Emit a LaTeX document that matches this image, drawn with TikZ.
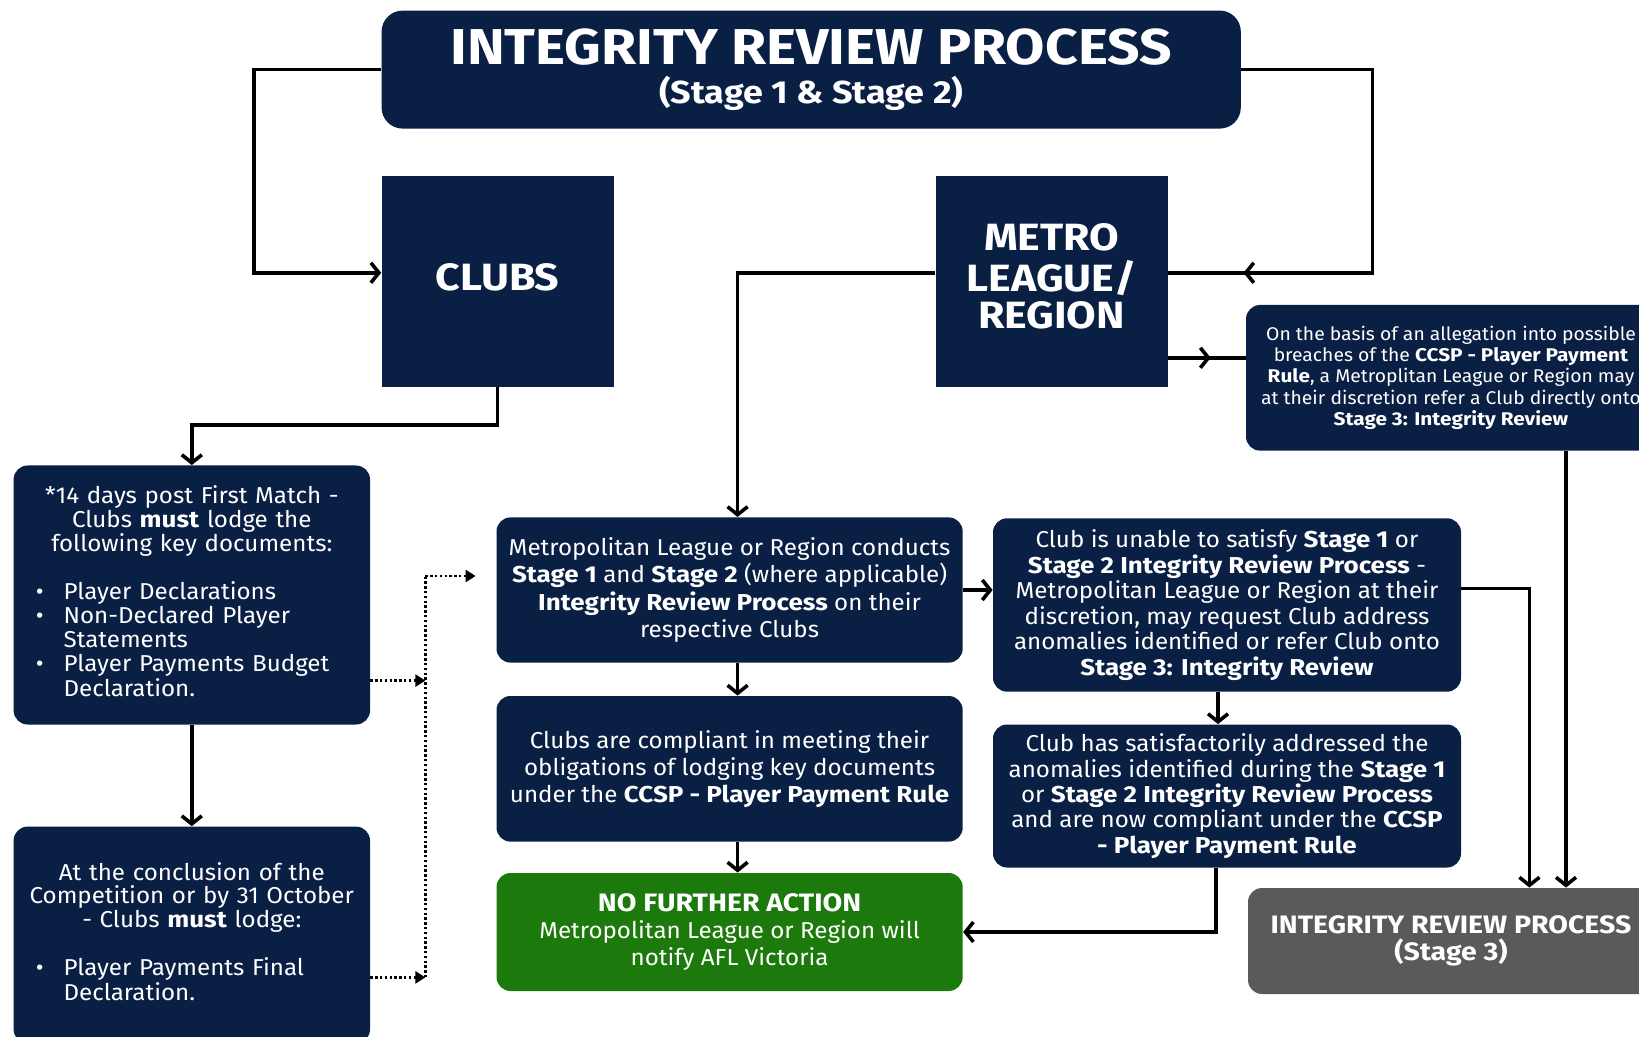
\documentclass[tikz,border=0pt]{standalone}
\usepackage{fontspec}
\setmainfont{Fira Sans}[
  UprightFeatures={FakeStretch=1.05},
  BoldFeatures={FakeStretch=1.13},
]
\usetikzlibrary{
    shapes,
    arrows.meta,
    decorations.markings,
}
\definecolor{irpnavy}{RGB}{10,31,68}
\definecolor{irpgreen}{RGB}{28,122,12}
\definecolor{irpgrey}{RGB}{90,90,90}
\newcommand{\boxround}{7pt}
\newcommand{\flowwidth}{1.8pt}
\newcommand{\textlift}{4.2pt}
\newcommand{\bodyfont}{\fontsize{11.5}{13.6}\selectfont}
\tikzstyle{flowline} = [draw=black, line width=\flowwidth]
\tikzstyle{flowarrow} = [flowline, -{Straight Barb[length=4pt,width=10pt]}]
\tikzstyle{dotline} = [draw=black, line width=1.4pt, dash pattern=on 1.2pt off 1.2pt]
\tikzstyle{dotarrow} = [dotline, -{Triangle[length=5pt,width=6pt]}]
\tikzstyle{navybox} = [
  shape=rectangle,
  rounded corners=\boxround,
  fill=irpnavy,
  text=white,
  align=center,
  inner sep=0pt,
  font=\bodyfont,
]
\tikzstyle{squarebox} = [
  navybox,
  sharp corners,
  minimum width=116pt,
  minimum height=105.6pt,
  font=\fontsize{19}{16.8}\selectfont\bfseries,
]
\tikzset{midarrow/.style={
  postaction={decorate},
  decoration={markings, mark=at position #1 with {\arrow{Straight Barb[length=4pt,width=10pt]}}},
}}

\begin{document}
\begin{tikzpicture}[x=1pt, y=-1pt]
    \useasboundingbox (0,0) rectangle (819.5,518.5);
    % top row
    \node[navybox, rounded corners=10.5pt, minimum width=429.6pt, minimum height=59pt] (title) at (405.6,34.8)
      {{\fontsize{25.2}{25.2}\selectfont\bfseries INTEGRITY REVIEW PROCESS}\\[4pt]
       {\fontsize{15.9}{17}\selectfont\bfseries (Stage 1 \& Stage 2)}};
    \node[squarebox] (clubs) at (248.8,140.6) {\raisebox{\textlift}{CLUBS}};
    \node[squarebox] (metro) at (525.8,140.6)
      {\raisebox{\textlift}{\begin{tabular}{@{}c@{}}METRO\\LEAGUE/\\REGION\end{tabular}}};
    \node[navybox, minimum width=205pt, minimum height=72.8pt, font=\fontsize{9.2}{10.6}\selectfont] (alleg) at (725.5,188.9)
      {On the basis of an allegation into possible\\
       breaches of the \textbf{CCSP - Player Payment}\\
       \textbf{Rule}, a Metroplitan League or Region may\\
       at their discretion refer a Club directly onto\\
       \textbf{Stage 3: Integrity Review}};
    % left column
    \node[navybox, minimum width=178.2pt, minimum height=129.5pt, text width=164pt, align=left,
          font=\fontsize{11.5}{11.8}\selectfont] (left1) at (95.9,297.5)
      {{\centering *14 days post First Match -\\ Clubs \textbf{must} lodge the\\ following key documents:\par}
       \vspace{11.8pt}
       \hspace*{4pt}\begin{tabular}{@{}l@{\hspace{10pt}}l@{}}
         \textbullet & Player Declarations\\
         \textbullet & Non-Declared Player\\
                     & Statements\\
         \textbullet & Player Payments Budget\\
                     & Declaration.
       \end{tabular}};
    \node[navybox, minimum width=178.2pt, minimum height=108.4pt, text width=164pt, align=left,
          font=\fontsize{11.5}{11.8}\selectfont] (left2) at (95.9,467.5)
      {{\centering At the conclusion of the\\ Competition or by 31 October\\ - Clubs \textbf{must} lodge:\par}
       \vspace{11.8pt}
       \hspace*{4pt}\begin{tabular}{@{}l@{\hspace{10pt}}l@{}}
         \textbullet & Player Payments Final\\
                     & Declaration.
       \end{tabular}};
    % centre column
    \node[navybox, minimum width=233.1pt, minimum height=72.6pt] (cen1) at (364.8,295)
      {Metropolitan League or Region conducts\\
       \textbf{Stage 1} and \textbf{Stage 2} (where applicable)\\
       \textbf{Integrity Review Process} on their\\
       respective Clubs};
    \node[navybox, minimum width=233.1pt, minimum height=72.8pt] (cen2) at (364.8,384.4)
      {Clubs are compliant in meeting their\\
       obligations of lodging key documents\\
       under the \textbf{CCSP - Player Payment Rule}};
    \node[navybox, fill=irpgreen, minimum width=233.1pt, minimum height=59pt] (green) at (364.8,466)
      {{\fontsize{12.6}{13.6}\selectfont\bfseries NO FURTHER ACTION}\\
       Metropolitan League or Region will\\
       notify AFL Victoria};
    % right column
    \node[navybox, minimum width=234pt, minimum height=86.7pt, font=\fontsize{11.5}{12.75}\selectfont] (right1) at (613.5,302.5)
      {Club is unable to satisfy \textbf{Stage 1} or\\
       \textbf{Stage 2 Integrity Review Process} -\\
       Metropolitan League or Region at their\\
       discretion, may request Club address\\
       anomalies identified or refer Club onto\\
       \textbf{Stage 3: Integrity Review}};
    \node[navybox, minimum width=234pt, minimum height=71.5pt, font=\fontsize{11.5}{12.7}\selectfont] (right2) at (613.5,398)
      {Club has satisfactorily addressed the\\
       anomalies identified during the \textbf{Stage 1}\\
       or \textbf{Stage 2 Integrity Review Process}\\
       and are now compliant under the \textbf{CCSP}\\
       \textbf{- Player Payment Rule}};
    \node[navybox, fill=irpgrey, minimum width=203pt, minimum height=53pt,
          font=\fontsize{12.6}{13.6}\selectfont\bfseries] (grey) at (725.5,470.5)
      {INTEGRITY REVIEW PROCESS\\(Stage 3)};

    % connectors
    \coordinate (lcorner) at (127,34.8);
    \coordinate (rcorner) at (686.3,34.8);
    \coordinate (allegin) at ([yshift=10pt]alleg.west);
    \coordinate (dottop) at (212.7,288);
    \coordinate (dotA) at (212.7,340.3);
    \coordinate (dotB) at (212.7,488.7);
    \coordinate (dotin) at (237.8,288);
    \coordinate (rjoin) at (764.7,294.3);
    \coordinate (allegout) at ([xshift=57.5pt]alleg.south);

    \draw[flowarrow] (title.west) -- (lcorner) |- ([yshift=\textlift]clubs.west);
    \draw[flowline, midarrow=0.86] (title.east) -- (rcorner) |- ([yshift=\textlift]metro.east);
    \draw[flowline, midarrow=0.55] (allegin -| metro.east) -- (allegin);
    \draw[flowarrow] ([yshift=\textlift]metro.west) -| ([xshift=4pt]cen1.north);
    \draw[flowarrow] (clubs.south) -- ++(0,18.8) -| (left1.north);
    \draw[flowarrow] (left1.south) -- (left2.north);
    \draw[dotline] (dotB) -- (dottop);
    \draw[dotarrow] (dottop) -- (dotin);
    \draw[dotarrow] (left1.east |- dotA) -- (dotA);
    \draw[dotarrow] (left2.east |- dotB) -- (dotB);
    \draw[flowarrow] (cen1.east) -- (cen1.east -| right1.west);
    \draw[flowarrow] ([xshift=4pt]cen1.south) -- ([xshift=4pt]cen2.north);
    \draw[flowarrow] ([xshift=4pt]cen2.south) -- ([xshift=4pt]green.north);
    \draw[flowarrow] ([xshift=-4.5pt]right1.south) -- ([xshift=-4.5pt]right2.north);
    \draw[flowarrow] ([xshift=-5.5pt]right2.south) |- (green.east);
    \draw[flowarrow] (rjoin -| right1.east) -- (rjoin) -- (rjoin |- grey.north);
    \draw[flowarrow] (allegout) -- (allegout |- grey.north);
\end{tikzpicture}
\end{document}
